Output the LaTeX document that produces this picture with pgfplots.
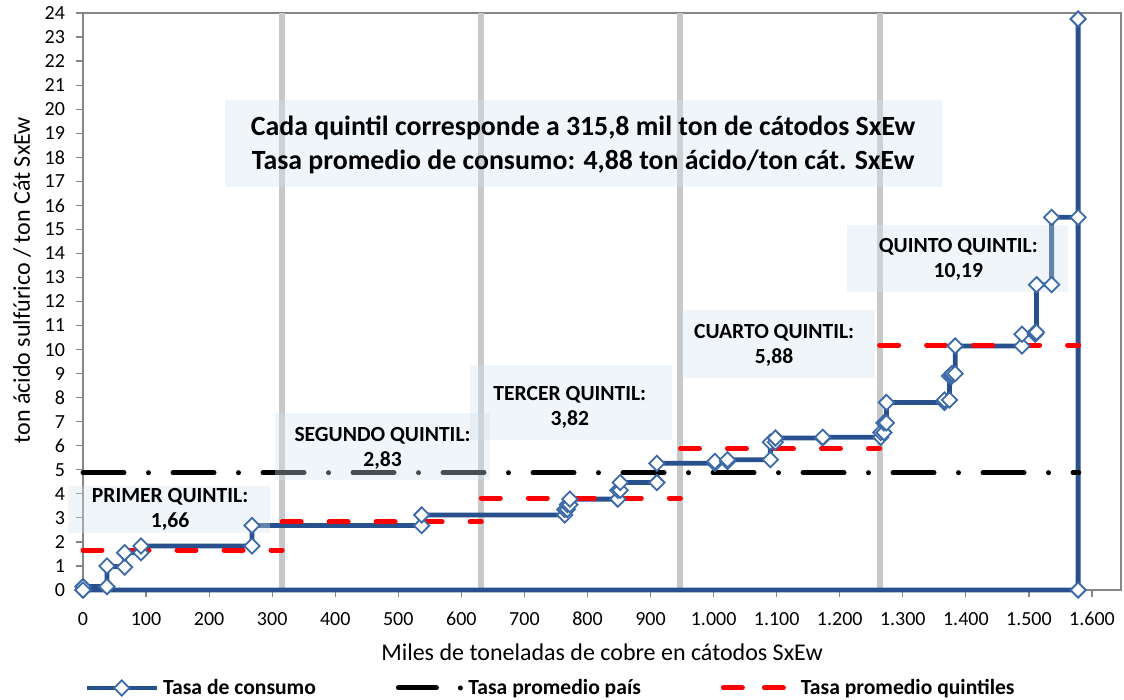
\documentclass[border=0pt]{standalone}
\usepackage{fontspec}
\setmainfont{Carlito}
\usepackage{pgfplots}
\pgfplotsset{compat=1.18}
\definecolor{stepblue}{RGB}{40,80,140}
\definecolor{markblue}{RGB}{60,105,168}
\definecolor{qgray}{RGB}{200,200,200}
\definecolor{boxfill}{RGB}{212,226,238}
\definecolor{axgray}{RGB}{134,134,134}
\pgfplotsset{
  legblue/.style={legend image code/.code={\draw[mark repeat=2,mark phase=2,##1] plot coordinates {(0pt,0pt) (17.5pt,0pt) (35pt,0pt)};}},
  legblack/.style={legend image code/.code={\draw[##1, dash pattern=on 19pt off 12pt on 0pt off 20pt] (1.25pt,0pt)--(33pt,0pt);}},
  legred/.style={legend image code/.code={\draw[##1, dash pattern=on 9.5pt off 11pt] (1.25pt,0pt)--(36.75pt,0pt);}},
}
\begin{document}
\begin{tikzpicture}
\path[use as bounding box] (-41.5pt,-55pt) rectangle (520.5pt,295pt);
\begin{axis}[
  at={(0pt,0pt)}, anchor=south west,
  scale only axis, width=519pt, height=288.5pt,
  xmin=0, xmax=1646, ymin=0, ymax=24,
  clip=false,
  xtick={0,100,...,1600}, ytick={0,1,...,24},
  tick align=outside, tick pos=left,
  major tick length=3.5pt,
  tick style={draw=axgray, line width=0.6pt},
  axis line style={draw=axgray, line width=0.6pt},
  ticklabel style={font=\fontsize{10}{12}\selectfont},
  xticklabel style={yshift=-4pt},
  yticklabel style={xshift=-2pt},
  /pgf/number format/1000 sep={.},
  /pgf/number format/assume math mode=true,
  xlabel={Miles de toneladas de cobre en cátodos SxEw},
  ylabel={ton ácido sulfúrico / ton Cát SxEw},
  label style={font=\fontsize{12}{14}\selectfont},
  xlabel style={at={(axis description cs:0.5,-0.1075)}, anchor=center},
  ylabel style={at={(axis description cs:-0.0588,0.537)}, anchor=center},
  legend columns=3,
  legend style={at={(0.4513,-0.1698)}, anchor=center, draw=none, fill=none,
    font=\bfseries\fontsize{10.8}{12}\selectfont,
    /tikz/every even column/.append style={column sep=38pt}},
  legend cell align=left,
]
% quintile boundaries
\addplot[qgray, line width=3pt, forget plot] coordinates {(315.8,0)(315.8,24)};
\addplot[qgray, line width=3pt, forget plot] coordinates {(631.6,0)(631.6,24)};
\addplot[qgray, line width=3pt, forget plot] coordinates {(947.4,0)(947.4,24)};
\addplot[qgray, line width=3pt, forget plot] coordinates {(1263.2,0)(1263.2,24)};
% consumption curve
\addplot[stepblue, line width=2.4pt, mark=square*, mark size=2.7pt,
  mark options={rotate=45, fill=white, draw=markblue, line width=0.9pt, solid}, legblue]
coordinates {
(0,0)(0,0.14)(38,0.14)(38,1.0)(66,0.95)(66,1.55)(92,1.55)(92,1.83)(268,1.83)(268,2.68)
(537,2.68)(537,3.12)(764,3.12)(764,3.35)(768,3.35)(768,3.55)(772,3.55)(772,3.78)
(848,3.78)(848,4.15)(852,4.15)(852,4.47)(910,4.47)(910,5.27)(1002,5.27)(1002,5.35)
(1022,5.35)(1022,5.42)(1090,5.42)(1090,6.15)(1098,6.15)(1098,6.32)(1173,6.32)(1173,6.35)
(1265,6.35)(1265,6.55)(1270,6.55)(1270,6.95)(1274,6.95)(1274,7.8)(1366,7.8)(1366,7.9)
(1374,7.9)(1374,8.9)(1378,8.9)(1378,9.0)(1383,9.0)(1383,10.15)(1489,10.15)(1489,10.64)
(1510,10.64)(1510,10.72)(1512,10.72)(1512,12.7)(1536,12.7)(1536,15.5)(1578,15.5)
(1578,23.75)(1578,0)(0,0)
};
\addlegendentry{Tasa de consumo}
% country average
\addplot[black, line width=2.5pt, line cap=round, dash pattern=on 20.5pt off 12.25pt on 0pt off 12.25pt, legblack]
coordinates {(0,4.88)(1579,4.88)};
\addlegendentry{Tasa promedio país}
% quintile averages
\addplot[red, line width=2.5pt, line cap=round, dash pattern=on 9.5pt off 14pt, legred]
coordinates {(0,1.66)(315.8,1.66)};
\addlegendentry{Tasa promedio quintiles}
\addplot[red, line width=2.5pt, line cap=round, dash pattern=on 9.5pt off 14pt, forget plot]
coordinates {(315.8,2.83)(631.6,2.83)};
\addplot[red, line width=2.5pt, line cap=round, dash pattern=on 9.5pt off 14pt, forget plot]
coordinates {(631.6,3.82)(947.4,3.82)};
\addplot[red, line width=2.5pt, line cap=round, dash pattern=on 9.5pt off 14pt, forget plot]
coordinates {(947.4,5.88)(1263.2,5.88)};
\addplot[red, line width=2.5pt, line cap=round, dash pattern=on 9.5pt off 14pt, forget plot]
coordinates {(1263.2,10.19)(1579,10.19)};
% annotation boxes
\fill[boxfill, fill opacity=0.35] (axis cs:225.2,16.76) rectangle (axis cs:1362,20.38);
\fill[boxfill, fill opacity=0.35] (axis cs:-23.8,2.37) rectangle (axis cs:296.5,4.33);
\fill[boxfill, fill opacity=0.35] (axis cs:304.5,4.58) rectangle (axis cs:645.4,7.36);
\fill[boxfill, fill opacity=0.35] (axis cs:613.7,6.24) rectangle (axis cs:934,9.36);
\fill[boxfill, fill opacity=0.35] (axis cs:950.4,8.82) rectangle (axis cs:1256,11.65);
\fill[boxfill, fill opacity=0.35] (axis cs:1211.5,12.38) rectangle (axis cs:1562,15.18);
\node[font=\bfseries\fontsize{13.9}{17}\selectfont, align=center] at (axis cs:793,18.51)
  {Cada quintil corresponde a 315,8 mil ton de cátodos SxEw\\Tasa promedio de consumo: 4,88 ton ácido/ton cát. SxEw};
\node[font=\bfseries\fontsize{10.8}{12.5}\selectfont, align=center] at (axis cs:138,3.35) {PRIMER QUINTIL:\\1,66};
\node[font=\bfseries\fontsize{10.8}{12.5}\selectfont, align=center] at (axis cs:475,5.87) {SEGUNDO QUINTIL:\\2,83};
\node[font=\bfseries\fontsize{10.8}{12.5}\selectfont, align=center] at (axis cs:772,7.61) {TERCER QUINTIL:\\3,82};
\node[font=\bfseries\fontsize{10.8}{12.5}\selectfont, align=center] at (axis cs:1096,10.19) {CUARTO QUINTIL:\\5,88};
\node[font=\bfseries\fontsize{10.8}{12.5}\selectfont, align=center] at (axis cs:1388,13.77) {QUINTO QUINTIL:\\10,19};
\end{axis}
\end{tikzpicture}
\end{document}
